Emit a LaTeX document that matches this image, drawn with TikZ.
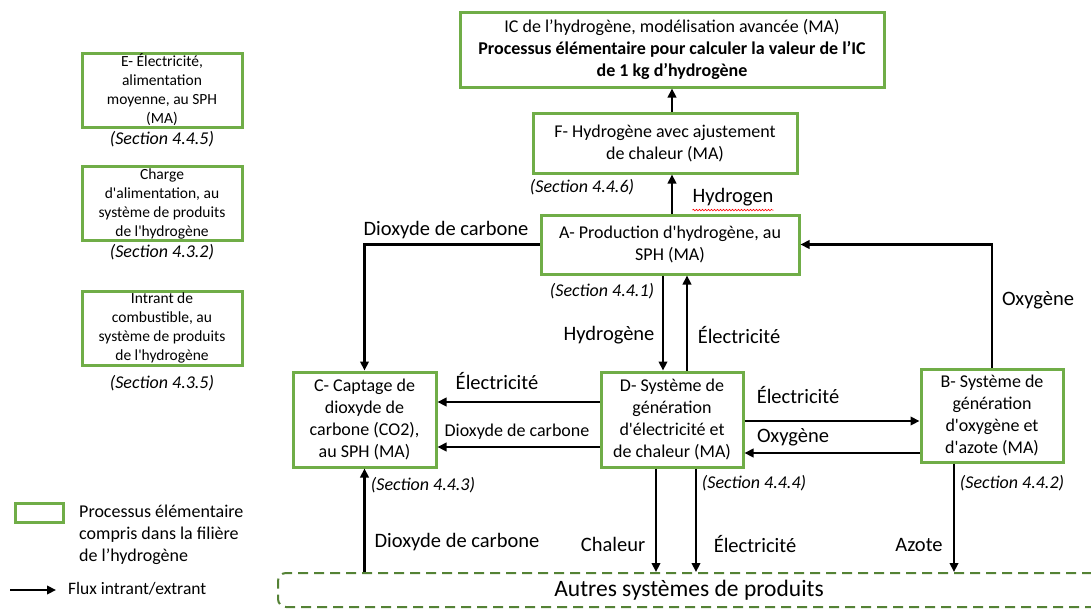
\documentclass[tikz,border=0pt]{standalone}
\usepackage{fontspec}
\setmainfont{Carlito}
\usetikzlibrary{arrows.meta,decorations.pathmorphing}
\definecolor{procgreen}{RGB}{112,173,71}
\definecolor{othergreen}{RGB}{84,130,53}
\newcommand{\boxfont}{\fontsize{18}{22}\selectfont}
\newcommand{\lblfont}{\fontsize{20.5}{24}\selectfont}
\newcommand{\secfont}{\fontsize{18}{22}\selectfont\itshape}
\newcommand{\smallboxfont}{\fontsize{15.5}{19}\selectfont}
\newcommand{\ap}{\textquotesingle}
\tikzset{
  procbox/.style={draw=procgreen, line width=3pt, align=center, inner sep=0pt, font=\boxfont},
  leftbox/.style={procbox, font=\smallboxfont, minimum width=160pt, minimum height=74pt},
  flow/.style={line width=2.7pt, -{Triangle[length=9pt,width=8.5pt]}},
  lbl/.style={font=\lblfont, inner sep=0pt},
  sec/.style={font=\secfont, inner sep=0pt},
}
\begin{document}
\begin{tikzpicture}[x=1pt, y=-1pt]
    \useasboundingbox (0,0) rectangle (1091,608);
    % process boxes
    \node[procbox, minimum width=424pt, minimum height=75pt] (ic) at (672,49.5)
        {IC de l’hydrogène, modélisation avancée (MA)\\
         \textbf{Processus élémentaire pour calculer la valeur de l’IC}\\
         \textbf{de 1 kg d’hydrogène}};
    \node[procbox, minimum width=264pt, minimum height=60pt] (f) at (665,143)
        {F- Hydrogène avec ajustement\\de chaleur (MA)};
    \node[procbox, minimum width=258pt, minimum height=59pt] (a) at (670,244.5)
        {A- Production d\ap hydrogène, au\\SPH (MA)};
    \node[procbox, minimum width=143pt, minimum height=95pt] (c) at (364.5,419.5)
        {C- Captage de\\dioxyde de\\carbone (CO2),\\au SPH (MA)};
    \node[procbox, minimum width=142pt, minimum height=95pt] (d) at (672,419.5)
        {D- Système de\\génération\\d\ap électricité et\\de chaleur (MA)};
    \node[procbox, minimum width=142pt, minimum height=93pt] (b) at (992,415.5)
        {B- Système de\\génération\\d\ap oxygène et\\d\ap azote (MA)};
    \node[leftbox] (e) at (162,90)
        {E- Électricité,\\alimentation\\moyenne, au SPH\\(MA)};
    \node[leftbox] (charge) at (162,203.5)
        {Charge\\d\ap alimentation, au\\système de produits\\de l\ap hydrogène};
    \node[leftbox] (intrant) at (162,328)
        {Intrant de\\combustible, au\\système de produits\\de l\ap hydrogène};
    \node[draw=othergreen, line width=2pt, dash pattern=on 10pt off 6pt, rounded corners=8pt,
          minimum width=822pt, minimum height=34pt, inner sep=0pt,
          font=\fontsize{23.5}{28}\selectfont] (autres) at (689,590) {Autres systèmes de produits};
    % sections
    \node[sec] (s446) at (582,187) {(Section 4.4.6)};
    \node[sec] (s441) at (602,291) {(Section 4.4.1)};
    \node[sec] (s443) at (423,485) {(Section 4.4.3)};
    \node[sec] (s444) at (754,483) {(Section 4.4.4)};
    \node[sec] (s442) at (1012,483) {(Section 4.4.2)};
    \node[sec] (s445) at (162,139) {(Section 4.4.5)};
    \node[sec] (s432) at (162,252) {(Section 4.3.2)};
    \node[sec] (s435) at (162,383) {(Section 4.3.5)};
    % flows
    \draw[flow] (f.north -| ic.south) -- (ic.south);
    \draw[flow] (a.north -| ic.south) -- (f.south -| ic.south);
    \draw[flow] (a.west) -| (c.north);
    \draw[flow] ([xshift=-7]a.south) -- ([xshift=-7]a.south |- d.north);
    \draw[flow] ([xshift=15]d.north) -- ([xshift=15]d.north |- a.south);
    \draw[flow] ([yshift=17.5]d.west) -- ([yshift=17.5]d.west -| c.east);
    \draw[flow] ([yshift=-27.5]d.west) -- ([yshift=-27.5]d.west -| c.east);
    \draw[flow] ([yshift=-1.5]d.east) -- ([yshift=-1.5]d.east -| b.west);
    \draw[flow] ([yshift=-37.5]b.west) -- ([yshift=-37.5]b.west -| d.east);
    \draw[flow] (b.north) |- (a.east);
    \draw[flow] (autres.north -| c.south) -- (c.south);
    \draw[flow] ([xshift=-16]d.south) -- ([xshift=-16]d.south |- autres.north);
    \draw[flow] ([xshift=24]d.south) -- ([xshift=24]d.south |- autres.north);
    \draw[flow] ([xshift=-38]b.south) -- ([xshift=-38]b.south |- autres.north);
    % flow labels
    \node[lbl] (hyd) at (733,197) {Hydrogen};
    \draw[red, line width=0.6pt, decorate, decoration={snake, amplitude=0.8pt, segment length=3pt}]
        ([yshift=-4]hyd.south west) -- ([yshift=-4]hyd.south east);
    \node[lbl] (co2a) at (446,230) {Dioxyde de carbone};
    \node[lbl] (h2ad) at (609,335) {Hydrogène};
    \node[lbl] (elda) at (739,335) {Électricité};
    \node[lbl] (eldc) at (497,381) {Électricité};
    \node[lbl, font=\boxfont] (co2dc) at (517,432) {Dioxyde de carbone};
    \node[lbl] (eldb) at (798,395) {Électricité};
    \node[lbl] (o2bd) at (793,437) {Oxygène};
    \node[lbl] (o2ba) at (1038,300) {Oxygène};
    \node[lbl] (co2c) at (457,542) {Dioxyde de carbone};
    \node[lbl] (heat) at (613,544) {Chaleur};
    \node[lbl] (eldo) at (755,544) {Électricité};
    \node[lbl] (n2) at (919,545) {Azote};
    % legend
    \node[draw=procgreen, line width=3pt, minimum width=48pt, minimum height=19pt, inner sep=0pt] (legbox) at (39,512.5) {};
    \node[anchor=west, align=left, inner sep=0pt, font=\fontsize{18}{22}\selectfont] (legtxt) at (79,535)
        {Processus élémentaire\\compris dans la filière\\de l’hydrogène};
    \coordinate (lgs) at (10,590);
    \coordinate (lge) at (56,590);
    \draw[flow] (lgs) -- (lge);
    \node[anchor=west, inner sep=0pt, font=\fontsize{17.5}{20}\selectfont] (legflow) at (68,589) {Flux intrant/extrant};
\end{tikzpicture}
\end{document}
